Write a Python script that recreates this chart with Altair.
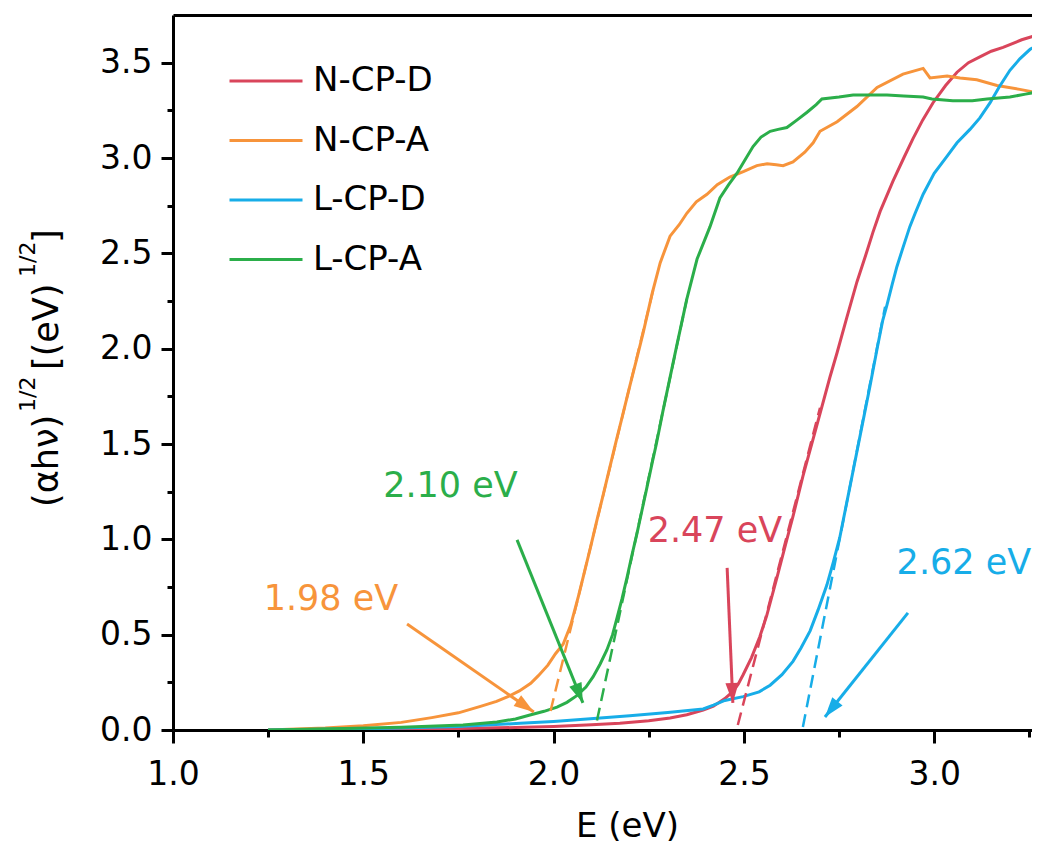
import math
import altair as alt
import pandas as pd

# ---------------- data ----------------
series_names = ["N-CP-D", "N-CP-A", "L-CP-D", "L-CP-A"]
series_colors = ["#D9455B", "#F7943B", "#17ADE8", "#2BAE4A"]

ncpd_x = [1.25, 1.5, 1.75, 1.9, 2.0, 2.1, 2.174, 2.25, 2.306, 2.35,
          2.393, 2.42, 2.45, 2.47, 2.485, 2.498, 2.52, 2.542, 2.56, 2.587,
          2.613, 2.629, 2.655, 2.692, 2.726, 2.745, 2.77, 2.797, 2.82, 2.839,
          2.858, 2.892, 2.92, 2.944, 2.97, 2.997, 3.03, 3.06, 3.09, 3.12,
          3.15, 3.181, 3.23, 3.278]
ncpd_y = [0.0, 0.003, 0.008, 0.013, 0.018, 0.027, 0.035, 0.048, 0.063, 0.08,
          0.105, 0.125, 0.165, 0.2, 0.24, 0.29, 0.38, 0.49, 0.6, 0.8,
          1.0, 1.12, 1.33, 1.6, 1.85, 1.98, 2.16, 2.35, 2.49, 2.61,
          2.72, 2.88, 3.0, 3.1, 3.2, 3.29, 3.38, 3.45, 3.5, 3.53,
          3.56, 3.58, 3.62, 3.65]

ncpa_x = [1.25, 1.4, 1.5, 1.6, 1.68, 1.75, 1.81, 1.85, 1.88, 1.91,
          1.94, 1.96, 1.985, 2.005, 2.025, 2.045, 2.065, 2.08, 2.096, 2.115,
          2.13, 2.148, 2.165, 2.18, 2.201, 2.22, 2.235, 2.259, 2.28, 2.306,
          2.33, 2.35, 2.375, 2.403, 2.43, 2.463, 2.5, 2.534, 2.561, 2.585,
          2.603, 2.629, 2.66, 2.682, 2.70, 2.745, 2.797, 2.85, 2.918, 2.971,
          2.989, 3.034, 3.068, 3.112, 3.165, 3.225, 3.278]
ncpa_y = [0.0, 0.01, 0.022, 0.04, 0.065, 0.09, 0.125, 0.15, 0.175, 0.205,
          0.245, 0.285, 0.34, 0.40, 0.45, 0.55, 0.70, 0.82, 0.95, 1.11,
          1.23, 1.38, 1.52, 1.64, 1.81, 1.96, 2.08, 2.29, 2.45, 2.59,
          2.65, 2.71, 2.77, 2.81, 2.86, 2.90, 2.93, 2.96, 2.97, 2.965,
          2.96, 2.98, 3.03, 3.08, 3.14, 3.19, 3.27, 3.37, 3.44, 3.47,
          3.42, 3.43, 3.42, 3.41, 3.38, 3.36, 3.34]

lcpd_x = [1.25, 1.5, 1.75, 1.912, 2.0, 2.088, 2.2, 2.3, 2.393, 2.42,
          2.45, 2.498, 2.54, 2.569, 2.60, 2.629, 2.65, 2.674, 2.695, 2.718,
          2.735, 2.752, 2.77, 2.787, 2.813, 2.831, 2.85, 2.865, 2.876, 2.89,
          2.902, 2.918, 2.936, 2.95, 2.971, 3.0, 3.034, 3.06, 3.094, 3.12,
          3.147, 3.17, 3.199, 3.225, 3.252, 3.278]
lcpd_y = [0.0, 0.006, 0.018, 0.035, 0.045, 0.058, 0.075, 0.092, 0.11, 0.13,
          0.155, 0.175, 0.20, 0.235, 0.29, 0.36, 0.43, 0.52, 0.63, 0.76,
          0.88, 1.01, 1.19, 1.36, 1.62, 1.80, 2.00, 2.15, 2.23, 2.34,
          2.43, 2.53, 2.64, 2.71, 2.81, 2.92, 3.01, 3.08, 3.15, 3.21,
          3.29, 3.37, 3.46, 3.52, 3.57, 3.60]

lcpa_x = [1.25, 1.45, 1.6, 1.762, 1.851, 1.9, 1.938, 1.975, 2.009, 2.035,
          2.061, 2.085, 2.104, 2.122, 2.14, 2.155, 2.167, 2.18, 2.193, 2.205,
          2.219, 2.232, 2.245, 2.26, 2.27, 2.287, 2.305, 2.324, 2.35, 2.377,
          2.411, 2.437, 2.46, 2.482, 2.50, 2.524, 2.545, 2.569, 2.59, 2.613,
          2.64, 2.666, 2.69, 2.705, 2.75, 2.787, 2.83, 2.876, 2.92, 2.971,
          2.994, 3.049, 3.10, 3.139, 3.199, 3.24, 3.278]
lcpa_y = [0.0, 0.008, 0.015, 0.026, 0.042, 0.058, 0.079, 0.098, 0.12, 0.145,
          0.18, 0.225, 0.28, 0.345, 0.42, 0.50, 0.59, 0.69, 0.80, 0.91,
          1.03, 1.15, 1.27, 1.41, 1.50, 1.67, 1.84, 2.02, 2.26, 2.47,
          2.64, 2.79, 2.86, 2.92, 2.98, 3.06, 3.11, 3.14, 3.15, 3.16,
          3.20, 3.24, 3.28, 3.31, 3.32, 3.33, 3.33, 3.33, 3.325, 3.32,
          3.31, 3.30, 3.30, 3.31, 3.32, 3.335, 3.35]

# tangent (dashed) lines, one per series
dash_x0 = [2.484, 1.992, 2.655, 2.114]
dash_y0 = [0.026, 0.10, 0.016, 0.05]
dash_x1 = [2.700, 2.262, 2.871, 2.350]
dash_y1 = [1.69, 2.31, 2.22, 2.26]

# annotation arrows, one per series
arrow_x0 = [2.456, 1.615, 2.931, 1.904]
arrow_y0 = [0.85, 0.556, 0.614, 0.997]
arrow_x1 = [2.471, 1.948, 2.713, 2.077]
arrow_y1 = [0.142, 0.094, 0.068, 0.142]

# band-gap labels
label_text = ["2.47 eV", "1.98 eV", "2.62 eV", "2.10 eV"]
label_x = [2.424, 1.415, 3.078, 1.729]
label_y = [0.986, 0.63, 0.818, 1.222]

x_major = [1.0, 1.5, 2.0, 2.5, 3.0]
x_minor = [1.25, 1.75, 2.25, 2.75, 3.25]
y_major = [0.0, 0.5, 1.0, 1.5, 2.0, 2.5, 3.0, 3.5]
y_minor = [0.25, 0.75, 1.25, 1.75, 2.25, 2.75, 3.25]

# ---------------- layout / style ----------------
FONT = "DejaVu Sans"
X_DOMAIN = [1.0, 3.257]
Y_DOMAIN = [0.0, 3.75]
W, H = 859, 715

xscale = alt.Scale(domain=X_DOMAIN, nice=False, zero=False)
yscale = alt.Scale(domain=Y_DOMAIN, nice=False, zero=False)

# ---------------- tables ----------------
rows = []
for name, xs, ys in zip(series_names, [ncpd_x, ncpa_x, lcpd_x, lcpa_x],
                        [ncpd_y, ncpa_y, lcpd_y, lcpa_y]):
    for i, (a, b) in enumerate(zip(xs, ys)):
        rows.append({"E": a, "v": b, "s": name, "i": i})
curves = pd.DataFrame(rows)

dashes = pd.DataFrame({"x0": dash_x0, "y0": dash_y0, "x1": dash_x1,
                       "y1": dash_y1, "c": series_colors})

px_per_x = W / (X_DOMAIN[1] - X_DOMAIN[0])
px_per_y = H / (Y_DOMAIN[1] - Y_DOMAIN[0])
angles = []
for a0, b0, a1, b1 in zip(arrow_x0, arrow_y0, arrow_x1, arrow_y1):
    dx = (a1 - a0) * px_per_x
    dy = -(b1 - b0) * px_per_y
    angles.append(math.degrees(math.atan2(dx, -dy)) % 360)
arrows = pd.DataFrame({"x0": arrow_x0, "y0": arrow_y0, "x1": arrow_x1,
                       "y1": arrow_y1, "ang": angles, "c": series_colors})

labels = pd.DataFrame({"x": label_x, "y": label_y, "t": label_text,
                       "c": series_colors})

# ---------------- layers ----------------
x_main_axis = alt.Axis(values=x_major, format=".1f", orient="bottom", grid=False,
                       tickSize=13, tickWidth=3, tickColor="black",
                       domainColor="black", domainWidth=3,
                       labelFont=FONT, labelFontSize=33, labelColor="black",
                       labelPadding=15, labelFlush=False, labelOverlap=False,
                       title="E (eV)", titleFont=FONT, titleFontSize=34,
                       titleFontWeight="normal", titleColor="black",
                       titleX=454, titleY=106, titleAlign="center",
                       titleBaseline="alphabetic")
y_main_axis = alt.Axis(values=y_major, format=".1f", orient="left", grid=False,
                       tickSize=12, tickWidth=3, tickColor="black",
                       domainColor="black", domainWidth=3,
                       labelFont=FONT, labelFontSize=33, labelColor="black",
                       labelPadding=9, labelFlush=False, labelOverlap=False,
                       title=None)

lines = alt.Chart(curves).mark_line(strokeWidth=3, clip=True).encode(
    x=alt.X("E:Q", scale=xscale, axis=x_main_axis),
    y=alt.Y("v:Q", scale=yscale, axis=y_main_axis),
    color=alt.Color("s:N", scale=alt.Scale(domain=series_names, range=series_colors),
                    legend=alt.Legend(title=None, orient="none", legendX=55, legendY=28,
                                      symbolType="stroke", symbolSize=5329,
                                      symbolStrokeWidth=3, labelFont=FONT,
                                      labelFontSize=34, labelColor="black",
                                      labelOffset=9, rowPadding=4.5, padding=0,
                                      direction="vertical")),
    order=alt.Order("i:Q"),
)

x_minor_layer = alt.Chart(pd.DataFrame({"m": x_minor})).mark_rule(opacity=0).encode(
    x=alt.X("m:Q", scale=xscale,
            axis=alt.Axis(values=x_minor, orient="bottom", labels=False, tickSize=7,
                          tickWidth=3, tickColor="black", domain=False, grid=False,
                          title=None)))
y_minor_layer = alt.Chart(pd.DataFrame({"m": y_minor})).mark_rule(opacity=0).encode(
    y=alt.Y("m:Q", scale=yscale,
            axis=alt.Axis(values=y_minor, orient="left", labels=False, tickSize=6,
                          tickWidth=3, tickColor="black", domain=False, grid=False,
                          title=None)))
top_layer = alt.Chart(pd.DataFrame({"m": x_minor})).mark_rule(opacity=0).encode(
    x=alt.X("m:Q", scale=xscale,
            axis=alt.Axis(orient="top", labels=False, ticks=False, domain=True,
                          domainWidth=3, domainColor="black", grid=False,
                          title=None)))

dash_layer = alt.Chart(dashes).mark_rule(strokeWidth=2.5, strokeDash=[13, 7]).encode(
    x=alt.X("x0:Q", scale=xscale, axis=None),
    y=alt.Y("y0:Q", scale=yscale, axis=None),
    x2="x1:Q", y2="y1:Q",
    color=alt.Color("c:N", scale=None),
)

arrow_lines = alt.Chart(arrows).mark_rule(strokeWidth=3).encode(
    x=alt.X("x0:Q", scale=xscale, axis=None),
    y=alt.Y("y0:Q", scale=yscale, axis=None),
    x2="x1:Q", y2="y1:Q",
    color=alt.Color("c:N", scale=None),
)
arrow_heads = alt.Chart(arrows).mark_point(
    shape="M0,0L0.33,1L-0.33,1Z", filled=True, size=1600, opacity=1, strokeWidth=0
).encode(
    x=alt.X("x1:Q", scale=xscale, axis=None),
    y=alt.Y("y1:Q", scale=yscale, axis=None),
    angle=alt.Angle("ang:Q", scale=None),
    color=alt.Color("c:N", scale=None),
)

label_layer = alt.Chart(labels).mark_text(
    font=FONT, fontSize=35, align="center", baseline="alphabetic"
).encode(
    x=alt.X("x:Q", scale=xscale, axis=None),
    y=alt.Y("y:Q", scale=yscale, axis=None),
    text="t:N",
    color=alt.Color("c:N", scale=None),
)

# y-axis title with superscripts, built from pieces
one = pd.DataFrame({"k": [0]})
title_parts = [("(αhν)", 35, -115, 492), ("1/2", 22, -138, 397),
               ("[(eV)", 35, -115, 355), ("1/2", 22, -138, 262),
               ("]", 35, -115, 228)]
title_layers = []
for txt, fs, px, py in title_parts:
    title_layers.append(
        alt.Chart(one).mark_text(font=FONT, fontSize=fs, angle=270, align="left",
                                 baseline="alphabetic", color="black", x=px, y=py)
        .encode(text=alt.value(txt)))

chart = alt.layer(
    x_minor_layer, y_minor_layer, top_layer, lines, dash_layer,
    arrow_lines, arrow_heads, label_layer, *title_layers
).resolve_axis(x="independent", y="independent").resolve_scale(
    color="independent"
).properties(
    width=W, height=H,
    padding={"left": 165, "top": 7, "right": 0, "bottom": 113},
    autosize=alt.AutoSizeParams(type="none"),
    background="white",
).configure_view(stroke=None)

chart.save("out.html", embed_options={"renderer": "svg", "actions": False})
